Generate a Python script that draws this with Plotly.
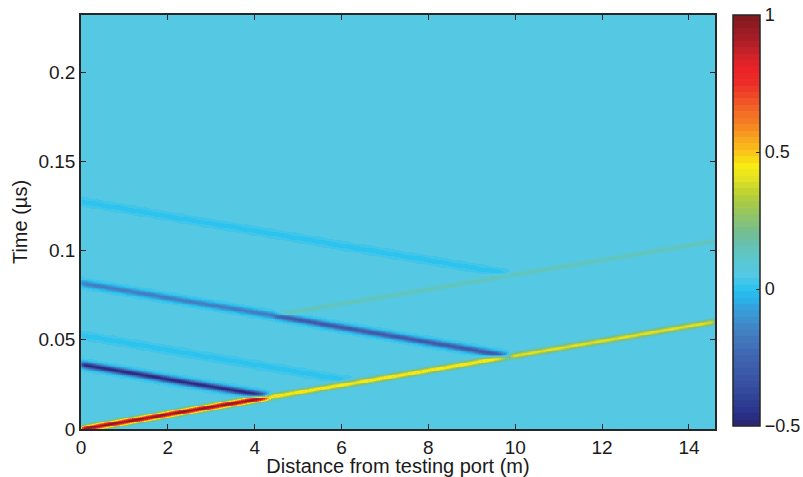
import numpy as np
import plotly.graph_objects as go

# Wave fronts (distance in m, time in µs, peak amplitude)
seg_x0 = [0.0, 4.4, 9.9, 4.4, 6.4, 9.9, 4.4, 4.4, 9.9]
seg_t0 = [0.0, 0.0181, 0.0407, 0.0181, 0.0263, 0.0407, 0.0637, 0.0637, 0.0868]
seg_x1 = [4.4, 9.9, 14.6, 0.0, 0.0, 4.4, 0.0, 14.6, 0.0]
seg_t1 = [0.0181, 0.0407, 0.0601, 0.0362, 0.0526, 0.0637, 0.0818, 0.1053, 0.1275]
seg_amp = [0.92, 0.42, 0.36, -0.52, -0.045, -0.34, -0.21, 0.10, -0.045]
background_level = 0.042
pulse_width = 0.0012  # µs

x_range = [0, 14.6]
t_range = [0, 0.232]
x_ticks = [0, 2, 4, 6, 8, 10, 12, 14]
t_ticks = [0, 0.05, 0.1, 0.15, 0.2]
t_ticklabels = ["0", "0.05", "0.1", "0.15", "0.2"]
cb_ticks = [-0.5, 0, 0.5, 1]
cb_ticklabels = ["\u22120.5", "0", "0.5", "1"]

# colour anchors (jet-like, as printed in the picture)
cmap_vals = [-0.5, -0.45, -0.4, -0.35, -0.3, -0.25, -0.2, -0.15, -0.1, -0.05, 0.0, 0.05,
             0.1, 0.15, 0.2, 0.25, 0.3, 0.35, 0.4, 0.45, 0.5, 0.55, 0.6, 0.65, 0.7,
             0.75, 0.8, 0.85, 0.9, 0.95, 1.0]
cmap_rgb = [(38, 38, 110), (42, 50, 140), (48, 65, 150), (55, 80, 160), (60, 90, 170),
            (62, 100, 175), (65, 115, 185), (65, 130, 195), (60, 150, 210), (45, 170, 230),
            (40, 195, 240), (85, 200, 228), (90, 200, 210), (100, 195, 185), (115, 190, 150),
            (135, 195, 115), (160, 200, 80), (190, 210, 50), (225, 225, 35), (248, 235, 20),
            (250, 195, 25), (248, 165, 30), (245, 130, 35), (242, 105, 38), (238, 75, 40),
            (235, 45, 40), (235, 35, 40), (210, 35, 40), (175, 30, 40), (150, 28, 35),
            (125, 25, 30)]

FONT = "Liberation Sans, Arial, Helvetica, sans-serif"

# ---- build the field from the wave fronts ----
nx, nt = 320, 520
xs = np.linspace(x_range[0], x_range[1], nx)
ts = np.linspace(t_range[0], t_range[1], nt)
X, T = np.meshgrid(xs, ts)
Z = np.full_like(X, background_level)
for x0, t0, x1, t1, a in zip(seg_x0, seg_t0, seg_x1, seg_t1, seg_amp):
    lo, hi = min(x0, x1), max(x0, x1)
    frac = (X - x0) / (x1 - x0)
    tc = t0 + frac * (t1 - t0)
    w = 1 / (1 + np.exp(-(X - lo) / 0.03)) * 1 / (1 + np.exp((X - hi) / 0.03))
    Z += a * w * np.exp(-0.5 * ((T - tc) / pulse_width) ** 2)

# discrete 64-level colour scale
n_lev = 64
cmin, cmax = -0.5, 1.0
arr = np.array(cmap_rgb, dtype=float)
colorscale = []
for k in range(n_lev):
    v = cmin + (k + 0.5) / n_lev * (cmax - cmin)
    c = [np.interp(v, cmap_vals, arr[:, j]) for j in range(3)]
    col = "rgb(%d,%d,%d)" % tuple(int(round(u)) for u in c)
    colorscale.append([k / n_lev, col])
    colorscale.append([(k + 1) / n_lev, col])

fig = go.Figure(go.Heatmap(
    x=xs, y=ts, z=Z, zmin=cmin, zmax=cmax, colorscale=colorscale,
    zsmooth=False, hoverinfo="skip",
    colorbar=dict(
        tickvals=cb_ticks, ticktext=cb_ticklabels, ticks="inside", ticklen=4,
        tickcolor="#262626", outlinewidth=1.5, outlinecolor="#262626",
        thickness=27, thicknessmode="pixels", len=411, lenmode="pixels",
        x=1.028, xanchor="left", y=1.0, yanchor="top", xpad=0, ypad=0,
        ticklabeloverflow="allow",
        tickfont=dict(family=FONT, size=18, color="#1a1a1a"),
    ),
))

axis_common = dict(
    showgrid=False, zeroline=False, showline=True, linecolor="#262626", linewidth=1.5,
    mirror="ticks", ticks="inside", ticklen=5, tickcolor="#262626", automargin=True,
    tickfont=dict(family=FONT, size=19, color="#1a1a1a"),
)
fig.update_layout(
    width=803, height=477,
    margin=dict(l=81, r=88, t=15, b=48, autoexpand=False),
    paper_bgcolor="white", plot_bgcolor="white",
    xaxis=dict(range=x_range, tickvals=x_ticks,
               title=dict(text="Distance from testing port (m)", standoff=4,
                          font=dict(family=FONT, size=20, color="#1a1a1a")),
               **axis_common),
    yaxis=dict(range=t_range, tickvals=t_ticks, ticktext=t_ticklabels,
               title=dict(text="Time (\u00b5s)", standoff=5,
                          font=dict(family=FONT, size=20, color="#1a1a1a")),
               **axis_common),
)
# remove the browser's default 8px page margin so the figure fills the window exactly
fig.write_html("out.html", config={"displayModeBar": False},
               post_script="document.body.style.margin='0px';")
